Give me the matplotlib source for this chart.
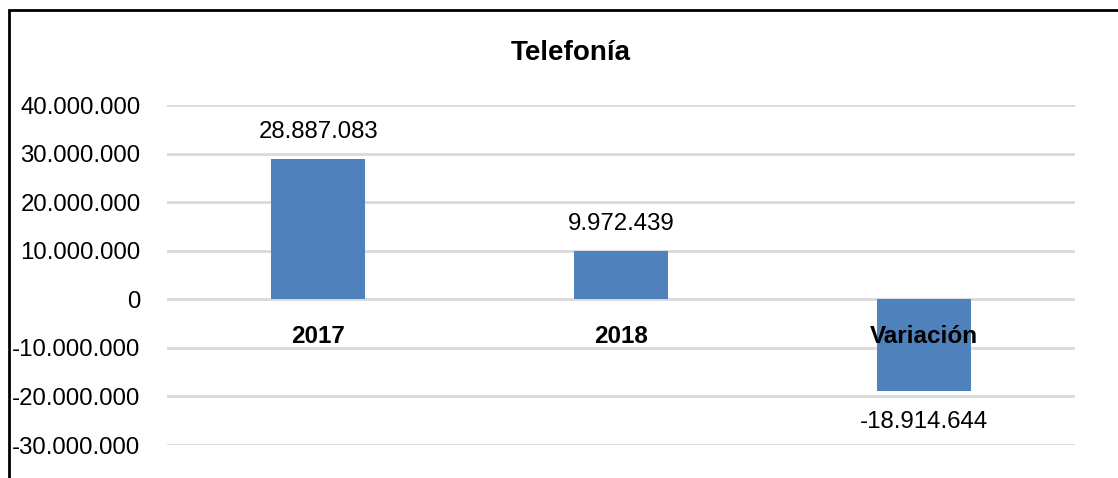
import matplotlib
matplotlib.use("Agg")
import matplotlib.pyplot as plt
from matplotlib import font_manager
from matplotlib.ticker import FuncFormatter, MultipleLocator
from matplotlib.patches import Rectangle

categories = ["2017", "2018", "Variación"]
values = [28887083, 9972439, -18914644]
title = "Telefonía"

names = {f.name for f in font_manager.fontManager.ttflist}
narrow = "Liberation Sans Narrow" in names
fam = "Liberation Sans Narrow" if narrow else "Liberation Sans"
plt.rcParams["font.family"] = [fam, "DejaVu Sans"]
fs = 20 if narrow else 17.3
fs_cat = 20 if narrow else 17.5

def fmt(v):
    s = f"{abs(int(round(v))):,}".replace(",", ".")
    return ("-" if v < 0 else "") + s

W, H = 1118, 478
fig = plt.figure(figsize=(W / 100, H / 100), dpi=100)
ax = fig.add_axes([167 / W, (H - 445) / H, (1075 - 167) / W, (445 - 105) / H])

x = list(range(len(categories)))
bars = ax.bar(x, values, width=0.31, color="#4F81BD", zorder=3)
ax.set_xlim(-0.5, len(categories) - 0.5)
ax.set_ylim(-30000000, 40000000)
ax.yaxis.set_major_locator(MultipleLocator(10000000))
ax.yaxis.set_major_formatter(FuncFormatter(lambda v, p: fmt(v)))
ax.grid(axis="y", color="#D9D9D9", linewidth=2, zorder=0)
ax.set_axisbelow(True)
for s in ax.spines.values():
    s.set_visible(False)
ax.tick_params(axis="y", length=0, pad=19, labelsize=fs, labelcolor="black")
ax.set_xticks([])

for xi, v, c in zip(x, values, categories):
    off = 16 if v >= 0 else -20
    ax.annotate(fmt(v), (xi, v), xytext=(0, off), textcoords="offset pixels",
                ha="center", va="bottom" if v >= 0 else "top", fontsize=fs, zorder=5)
    ax.annotate(c, (xi, 0), xytext=(0, -26), textcoords="offset pixels",
                ha="center", va="top", fontsize=fs_cat, fontweight="bold", zorder=5)

fig.text(571 / W, (H - 53) / H, title, ha="center", va="center",
         fontsize=20, fontweight="bold")

fig.patches.append(Rectangle((9 / W, -0.5), 2, (H - 10) / H + 0.5,
                             transform=fig.transFigure, fill=False,
                             edgecolor="black", linewidth=2))

fig.savefig("out.png", dpi=100)
